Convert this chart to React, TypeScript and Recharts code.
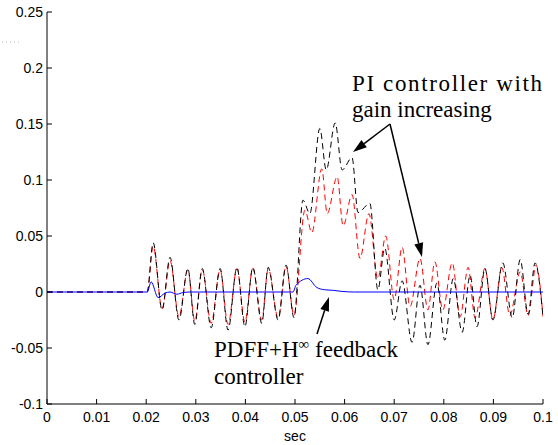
import React from "react";
import { LineChart, Line, XAxis, YAxis, Customized } from "recharts";

const xTicks = [0, 0.01, 0.02, 0.03, 0.04, 0.05, 0.06, 0.07, 0.08, 0.09, 0.1];
const yTicks = [-0.1, -0.05, 0, 0.05, 0.1, 0.15, 0.2, 0.25];

// PI controller, higher gain (black dashed)
const piHighT = [
  0, 0.0202, 0.0214, 0.0232, 0.0248, 0.0266, 0.0284, 0.0298, 0.0313, 0.0331,
  0.0349, 0.0365, 0.0383, 0.0399, 0.0415, 0.0433, 0.0446, 0.0466, 0.0482, 0.0498,
  0.0516, 0.053, 0.055, 0.0563, 0.0581, 0.0595, 0.0615, 0.0627, 0.0651, 0.0667,
  0.0681, 0.07, 0.0716, 0.0736, 0.0752, 0.0768, 0.0786, 0.0802, 0.0819, 0.0837,
  0.0853, 0.0867, 0.0883, 0.0899, 0.0919, 0.0938, 0.0954, 0.097, 0.0984, 0.1,
];
const piHighV = [
  0, 0, 0.044, -0.016, 0.031, -0.025, 0.021, -0.029, 0.021, -0.032,
  0.021, -0.034, 0.022, -0.031, 0.022, -0.028, 0.022, -0.025, 0.024, -0.023,
  0.082, 0.07, 0.146, 0.109, 0.151, 0.109, 0.12, 0.071, 0.079, 0.002,
  0.039, -0.025, 0.01, -0.045, 0.006, -0.047, 0.008, -0.043, 0.012, -0.036,
  0.015, -0.031, 0.021, -0.025, 0.026, -0.023, 0.029, -0.02, 0.026, -0.022,
];

// PI controller, lower gain (red dashed)
const piLowT = [
  0, 0.0202, 0.0214, 0.0232, 0.0248, 0.0266, 0.0284, 0.0298, 0.0313, 0.0331,
  0.0349, 0.0365, 0.0383, 0.0399, 0.0415, 0.0433, 0.0446, 0.0466, 0.0482, 0.0498,
  0.052, 0.0534, 0.0554, 0.0565, 0.0585, 0.0597, 0.0615, 0.0631, 0.0649, 0.0667,
  0.0683, 0.07, 0.0716, 0.0732, 0.0752, 0.0768, 0.0782, 0.0798, 0.0817, 0.0833,
  0.0849, 0.0863, 0.0883, 0.0899, 0.0917, 0.0933, 0.0954, 0.097, 0.0986, 0.1,
];
const piLowV = [
  0, 0, 0.041, -0.015, 0.028, -0.022, 0.02, -0.026, 0.02, -0.028,
  0.02, -0.029, 0.021, -0.027, 0.021, -0.025, 0.021, -0.023, 0.023, -0.021,
  0.073, 0.053, 0.11, 0.07, 0.103, 0.059, 0.087, 0.03, 0.07, 0.012,
  0.05, -0.007, 0.04, -0.013, 0.03, -0.016, 0.027, -0.016, 0.026, -0.022,
  0.022, -0.023, 0.021, -0.025, 0.022, -0.021, 0.018, -0.021, 0.024, -0.022,
];

// PDFF + H-infinity feedback (blue solid)
const pdffT = [
  0, 0.0202, 0.021, 0.0224, 0.0238, 0.0248, 0.0262, 0.0274, 0.029, 0.0496,
  0.0502, 0.0526, 0.0544, 0.056, 0.0577, 0.0595, 0.062, 0.1,
];
const pdffV = [
  0, 0, 0.009, -0.005, -0.001, 0, -0.002, -0.0005, 0, 0,
  0.006, 0.012, 0.004, 0.002, 0.0015, 0.0005, 0, 0,
];

const toPts = (t: number[], v: number[]) => t.map((x, i) => ({ t: x, v: v[i] }));
const piHigh = toPts(piHighT, piHighV);
const piLow = toPts(piLowT, piLowV);
const pdff = toPts(pdffT, pdffV);

const fmt = (v: number) => String(parseFloat(v.toFixed(2)));
const tickFont = "'Liberation Sans', Arial, sans-serif";
const serif = "'Liberation Serif', 'Times New Roman', serif";

function LeftTick({ x, y, payload }: any) {
  return (
    <g>
      <line x1={x} x2={x + 5} y1={y} y2={y} stroke="#000" />
      <text x={x - 4} y={y + 5} textAnchor="end" fontSize={14} fontFamily={tickFont} fill="#000">
        {fmt(payload.value)}
      </text>
    </g>
  );
}

function RightTick({ x, y }: any) {
  return <line x1={x - 5} x2={x} y1={y} y2={y} stroke="#000" />;
}

function BottomTick({ x, y, payload }: any) {
  return (
    <g>
      <line x1={x} x2={x} y1={y} y2={y - 5} stroke="#000" />
      <text x={x} y={y + 18} textAnchor="middle" fontSize={14} fontFamily={tickFont} fill="#000">
        {fmt(payload.value)}
      </text>
    </g>
  );
}

function TopTick({ x, y }: any) {
  return <line x1={x} x2={x} y1={y} y2={y + 5} stroke="#000" />;
}

function Arrow({ x1, y1, x2, y2 }: { x1: number; y1: number; x2: number; y2: number }) {
  const a = Math.atan2(y2 - y1, x2 - x1);
  const len = 14;
  const w = 4.5;
  const bx = x2 - len * Math.cos(a);
  const by = y2 - len * Math.sin(a);
  const px = -Math.sin(a) * w;
  const py = Math.cos(a) * w;
  return (
    <g>
      <line x1={x1} y1={y1} x2={bx} y2={by} stroke="#000" strokeWidth={1.5} />
      <polygon points={`${x2},${y2} ${bx + px},${by + py} ${bx - px},${by - py}`} fill="#000" />
    </g>
  );
}

function Annotations() {
  return (
    <g>
      <line x1={2} x2={22} y1={42} y2={42} stroke="#bbb" strokeDasharray="1 3" />
      <text x={352} y={91} fontSize={23} fontFamily={serif} fill="#000" textLength={190} lengthAdjust="spacing">
        PI controller with
      </text>
      <text x={352} y={117} fontSize={23} fontFamily={serif} fill="#000">gain increasing</text>
      <Arrow x1={390} y1={124} x2={353} y2={152} />
      <Arrow x1={390} y1={124} x2={422} y2={257} />
      <text x={214} y={357} fontSize={23} fontFamily={serif} fill="#000">
        PDFF+H
        <tspan fontSize={15} dy={-8}>∞</tspan>
        <tspan dy={8}> feedback</tspan>
      </text>
      <text x={214} y={384} fontSize={23} fontFamily={serif} fill="#000">controller</text>
      <Arrow x1={317} y1={334} x2={329} y2={297} />
      <text x={295} y={441} textAnchor="middle" fontSize={14} fontFamily={tickFont} fill="#000">sec</text>
    </g>
  );
}

export default function App() {
  return (
    <div style={{ position: "absolute", left: 0, top: 0, background: "#fff" }}>
      <LineChart width={558} height={445} margin={{ top: 12, right: 15, bottom: 0, left: 0 }}>
        <XAxis
          dataKey="t"
          type="number"
          domain={[0, 0.1]}
          ticks={xTicks}
          height={41}
          tickSize={0}
          tickMargin={0}
          tickLine={false}
          axisLine={{ stroke: "#000" }}
          tick={<BottomTick />}
          allowDataOverflow
        />
        <XAxis
          xAxisId="top"
          orientation="top"
          dataKey="t"
          type="number"
          domain={[0, 0.1]}
          ticks={xTicks}
          height={0}
          tickSize={0}
          tickMargin={0}
          tickLine={false}
          axisLine={{ stroke: "#000" }}
          tick={<TopTick />}
        />
        <YAxis
          type="number"
          domain={[-0.1, 0.25]}
          ticks={yTicks}
          width={47}
          tickSize={0}
          tickMargin={0}
          tickLine={false}
          axisLine={{ stroke: "#000" }}
          tick={<LeftTick />}
          allowDataOverflow
        />
        <YAxis
          yAxisId="right"
          orientation="right"
          type="number"
          domain={[-0.1, 0.25]}
          ticks={yTicks}
          width={0}
          tickSize={0}
          tickMargin={0}
          tickLine={false}
          axisLine={{ stroke: "#000" }}
          tick={<RightTick />}
        />
        <Line
          data={piLow}
          dataKey="v"
          type="monotone"
          stroke="#ff0000"
          strokeWidth={1}
          strokeDasharray="6 4"
          dot={false}
          isAnimationActive={false}
        />
        <Line
          data={piHigh}
          dataKey="v"
          type="monotone"
          stroke="#000"
          strokeWidth={1}
          strokeDasharray="6 4"
          dot={false}
          isAnimationActive={false}
        />
        <Line
          data={pdff}
          dataKey="v"
          type="monotone"
          stroke="#0000ff"
          strokeWidth={1}
          dot={false}
          isAnimationActive={false}
        />
        <Customized component={<Annotations />} />
      </LineChart>
    </div>
  );
}
